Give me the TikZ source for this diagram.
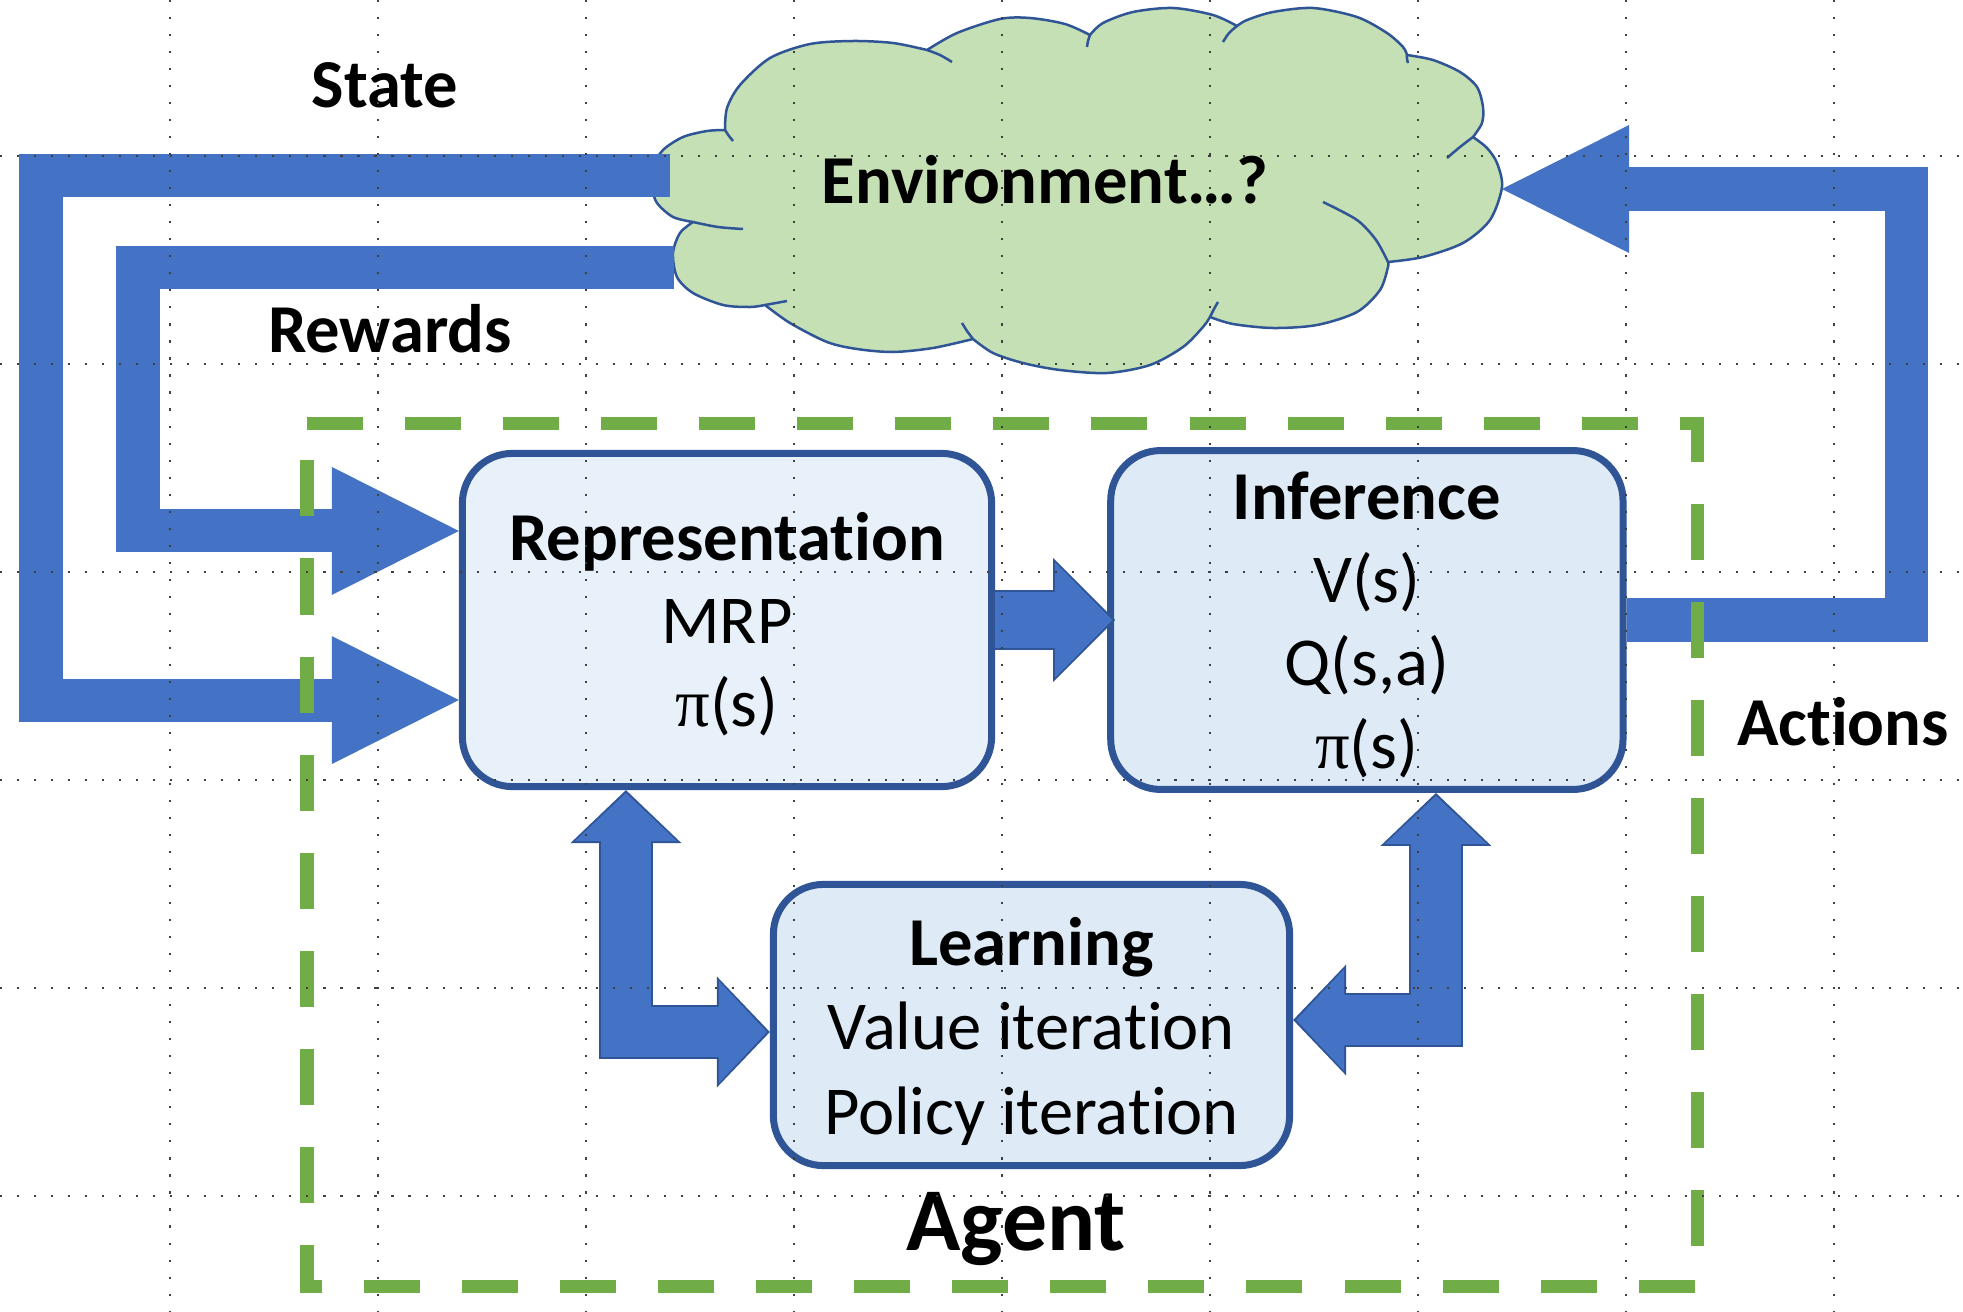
\documentclass[tikz,border=0pt]{standalone}
\usepackage{fontspec}
\setmainfont{Carlito}[Ligatures=NoCommon]
\newfontfamily\pifont{Liberation Serif}
\usepackage{xcolor}
\usepackage{tikz}
\usetikzlibrary{positioning,arrows.meta}
\definecolor{blue}{RGB}{68,114,196}
\definecolor{darkblue}{RGB}{47,85,151}
\definecolor{green}{RGB}{112,173,71}
\definecolor{lightgreen}{RGB}{197,224,180}
\definecolor{lightblue}{RGB}{222,235,247}
\definecolor{paleblue}{RGB}{232,241,250}
\newcommand{\toprow}[1]{\rule{0pt}{#1}}
\tikzset{
    box/.style={draw=darkblue, fill=lightblue, line width=0.07cm, rounded corners=0.5cm, align=center, font=\fontsize{19.5}{23.6}\selectfont},
    tag/.style={font=\fontsize{19.5}{23.6}\selectfont\bfseries, anchor=base, inner sep=0pt},
    flow/.style={draw=blue, line width=0.43cm, line join=miter, -{Triangle[length=1.27cm,width=1.28cm,line width=0pt]}},
    bigedge/.style={draw=darkblue, line width=0.60cm, line join=miter, -{Triangle[length=0.62cm,width=1.24cm,line width=0pt]}},
    bigfill/.style={draw=blue, line width=0.56cm, line join=miter, shorten >=0.03cm, -{Triangle[length=0.57cm,width=1.15cm,line width=0pt]}},
    twinedge/.style={draw=darkblue, line width=0.54cm, line join=miter, {Triangle[length=0.53cm,width=1.11cm,line width=0pt]}-{Triangle[length=0.53cm,width=1.11cm,line width=0pt]}},
    twinfill/.style={draw=blue, line width=0.50cm, line join=miter, shorten >=0.03cm, shorten <=0.03cm, {Triangle[length=0.48cm,width=1.02cm,line width=0pt]}-{Triangle[length=0.48cm,width=1.02cm,line width=0pt]}},
    cloudline/.style={draw=darkblue, line width=0.025cm, line join=round},
    agentbox/.style={draw=green, line width=0.13cm, line join=miter, dash pattern=on 0.56cm off 0.42cm},
    gridline/.style={draw=black!75, line width=0.6pt, dash pattern=on 0.6pt off 4.24pt}
}
\begin{document}
\begin{tikzpicture}[x=0.01cm, y=-0.01cm]
\useasboundingbox[fill=white] (0,0) rectangle (1963,1312);

% environment cloud
\filldraw[cloudline, fill=lightgreen]
    plot[smooth] coordinates {(693,222) (673,217) (657,203) (652,187) (653,167) (663,150) (683,137) (707,131) (725,130)}
 -- plot[smooth] coordinates {(725,130) (727,108) (740,85) (770,58) (810,44) (853,41) (893,43) (927,50)}
 -- plot[smooth] coordinates {(927,50) (957,33) (1000,19) (1030,18) (1065,24) (1090,35)}
 -- plot[smooth] coordinates {(1090,35) (1103,23) (1133,12) (1173,8) (1213,15) (1237,26)}
 -- plot[smooth] coordinates {(1237,26) (1247,20) (1273,12) (1313,8) (1357,17) (1387,33) (1403,47) (1407,55)}
 -- plot[smooth] coordinates {(1407,55) (1433,60) (1460,72) (1477,87) (1483,107) (1482,123) (1473,137)}
 -- plot[smooth] coordinates {(1473,137) (1487,148) (1497,163) (1502,187) (1490,220) (1463,243) (1423,257) (1388,262)}
 -- plot[smooth] coordinates {(1388,262) (1388,267) (1380,290) (1357,312) (1317,325) (1273,328) (1233,324) (1210,317)}
 -- plot[smooth] coordinates {(1210,317) (1203,327) (1183,347) (1150,365) (1107,373) (1060,370) (1023,363) (993,353) (973,339)}
 -- plot[smooth] coordinates {(973,339) (933,348) (893,352) (857,349) (827,342) (790,323) (765,305)}
 -- plot[smooth] coordinates {(765,305) (750,307) (723,305) (693,293) (677,277) (673,253) (680,233) (693,222)}
 -- cycle;
\draw[cloudline]
    plot[smooth] coordinates {(725,130) (729,136) (733,141)}
    plot[smooth] coordinates {(693,222) (718,227) (743,229)}
    plot[smooth] coordinates {(765,305) (776,303) (787,301)}
    plot[smooth] coordinates {(973,339) (967,331) (962,323)}
    plot[smooth] coordinates {(927,50) (940,55) (952,62)}
    plot[smooth] coordinates {(1090,35) (1088,41) (1087,47)}
    plot[smooth] coordinates {(1237,26) (1229,33) (1223,42)}
    plot[smooth] coordinates {(1407,55) (1407,59) (1408,63)}
    plot[smooth] coordinates {(1473,137) (1460,147) (1447,158)}
    plot[smooth] coordinates {(1323,202) (1357,220) (1376,240) (1388,262)}
    plot[smooth] coordinates {(1210,317) (1214,309) (1218,302)};
\node[tag] (env) at (1045,203) {Environment…?};

% agent blocks
\node[box, fill=paleblue, minimum width=5.29cm, minimum height=3.33cm] (rep) at (727,620) {\toprow{15.8pt}\textbf{Representation}\\MRP\\{\pifont π}(s)};
\node[box, minimum width=5.12cm, minimum height=3.31cm, right=1.12cm of rep] (infer) {\toprow{16.2pt}\textbf{Inference}\\V(s)\\Q(s,a)\\{\pifont π}(s)};
\node[box, minimum width=5.16cm, minimum height=2.81cm, font=\fontsize{19.5}{24}\selectfont] (learn) at (1031.5,1025) {\toprow{17.2pt}\textbf{Learning}\\Value iteration\\Policy iteration};

% state, rewards, actions
\coordinate (statesrc) at (670,175.5);
\coordinate (stateleft) at (41,175.5);
\coordinate (rewsrc) at (674,267.5);
\coordinate (rewleft) at (138,267.5);
\coordinate (actright) at (1906.5,189);
\coordinate (acttip) at (1502,189);
\draw[flow] (statesrc) -- (stateleft) |- ([yshift=-0.8cm]rep.west);
\draw[flow] (rewsrc) -- (rewleft) |- ([yshift=0.89cm]rep.west);
\draw[flow] (infer.east) -| (actright) -- (acttip);

% block arrows
\draw[bigedge] (rep.east) -- ([xshift=0.08cm]infer.west);
\draw[bigfill] (rep.east) -- ([xshift=0.08cm]infer.west);
\draw[twinedge] ([xshift=-1.01cm]rep.south) |- ([yshift=-0.07cm]learn.west);
\draw[twinfill] ([xshift=-1.01cm]rep.south) |- ([yshift=-0.07cm]learn.west);
\draw[twinedge] ([xshift=0.69cm]infer.south) |- ([yshift=0.05cm]learn.east);
\draw[twinfill] ([xshift=0.69cm]infer.south) |- ([yshift=0.05cm]learn.east);

% agent frame
\draw[agentbox] (307,423) -- (1697,423) -- (1697,1286) -- (307,1286) -- cycle;

\node[tag] (state) at (385,107) {State};
\node[tag] (rewards) at (390,352) {Rewards};
\node[tag] (actions) at (1843,745) {Actions};
\node[tag, font=\fontsize{25.5}{30}\selectfont\bfseries] (agent) at (1016,1250) {Agent};

% grid
\foreach \x in {170,378,...,1834} \draw[gridline] (\x,0) -- (\x,1312);
\foreach \y in {156,364,...,1196} \draw[gridline] (0,\y) -- (1963,\y);
\end{tikzpicture}
\end{document}
